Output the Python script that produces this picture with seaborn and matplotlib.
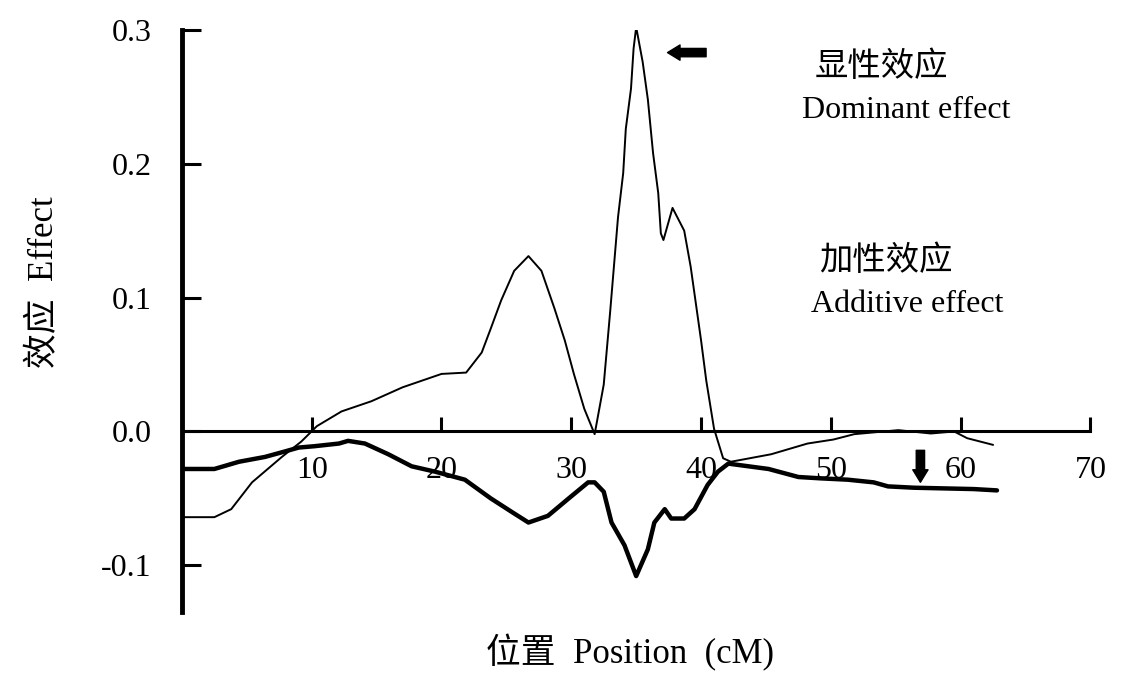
import pandas as pd
import seaborn as sns
import matplotlib.pyplot as plt

# 显性效应 (dominant effect), thin line
pos_dom = [0, 2.5, 3.8, 5.4, 7.7, 9.2, 10.4, 12.3, 14.6, 17, 20, 21.9, 23.1, 23.8,
           24.6, 25.6, 26.7, 27.7, 28.7, 29.5, 30.2, 31, 31.8, 32.5, 33.0, 33.6, 34,
           34.2, 34.6, 34.8, 35, 35.5, 35.9, 36.3, 36.7, 36.9, 37.1, 37.8, 38.7, 39.2,
           40, 40.4, 41, 41.7, 42.3, 45.4, 48.2, 50.2, 51.8, 55.2, 57.7, 59.5, 60.5, 62.5]
dom = [-0.064, -0.064, -0.058, -0.038, -0.019, -0.0075, 0.004, 0.015, 0.0226, 0.033,
       0.043, 0.044, 0.059, 0.077, 0.098, 0.12, 0.131, 0.12, 0.092, 0.068, 0.043, 0.017,
       -0.002, 0.035, 0.09, 0.16, 0.193, 0.226, 0.256, 0.286, 0.302, 0.276, 0.248, 0.208,
       0.178, 0.148, 0.143, 0.167, 0.15, 0.123, 0.068, 0.038, 0.002, -0.02, -0.0226,
       -0.017, -0.009, -0.006, -0.002, 0.001, -0.0015, 0.0, -0.005, -0.01]

# 加性效应 (additive effect), thick line
pos_add = [0, 2.5, 4.4, 6.4, 7.9, 9, 10.2, 12.1, 12.8, 14.1, 15.9, 17.7, 19.5, 21.8,
           23.8, 25.4, 26.7, 28.2, 29.8, 31.3, 31.8, 32.5, 33.1, 34.1, 35, 35.9, 36.4,
           37.2, 37.7, 38.7, 39.5, 40.5, 41.3, 42.1, 45.2, 47.5, 49.2, 51.3, 53.3, 54.4,
           56.4, 61, 62.8]
add = [-0.028, -0.028, -0.0226, -0.019, -0.015, -0.012, -0.011, -0.009, -0.007, -0.009,
       -0.017, -0.026, -0.03, -0.036, -0.05, -0.06, -0.068, -0.063, -0.05, -0.038, -0.038,
       -0.045, -0.068, -0.085, -0.108, -0.088, -0.068, -0.058, -0.065, -0.065, -0.058,
       -0.04, -0.03, -0.024, -0.028, -0.034, -0.035, -0.036, -0.038, -0.041, -0.042,
       -0.043, -0.044]

x_ticks = [10, 20, 30, 40, 50, 60, 70]
y_ticks = [-0.1, 0.0, 0.1, 0.2, 0.3]
y_labels = ['-0.1', '0.0', '0.1', '0.2', '0.3']

sns.set_style('white')
plt.rcParams['font.family'] = ['Liberation Serif', 'Noto Sans CJK SC', 'DejaVu Sans']
plt.rcParams['text.color'] = 'black'
plt.rcParams['axes.edgecolor'] = 'black'
plt.rcParams['xtick.color'] = 'black'
plt.rcParams['ytick.color'] = 'black'

df_dom = pd.DataFrame({'pos': pos_dom, 'effect': dom})
df_add = pd.DataFrame({'pos': pos_add, 'effect': add})

fig = plt.figure(figsize=(11.23, 6.78), dpi=100)
ax = fig.add_axes([0.162, 0.097, 0.809, 0.859])

sns.lineplot(data=df_dom, x='pos', y='effect', color='black', linewidth=1.4,
             estimator=None, sort=False, ax=ax)
sns.lineplot(data=df_add, x='pos', y='effect', color='black', linewidth=3.2,
             estimator=None, sort=False, ax=ax)

ax.set_xlim(0, 70)
ax.set_ylim(-0.135, 0.3)
ax.spines['top'].set_visible(False)
ax.spines['right'].set_visible(False)
ax.spines['left'].set_linewidth(3.5)
ax.spines['bottom'].set_position(('data', 0))
ax.spines['bottom'].set_linewidth(2.2)
ax.set_xticks(x_ticks)
ax.set_yticks(y_ticks)
ax.set_yticklabels(y_labels)
ax.tick_params(axis='x', bottom=True, direction='in', length=10, width=2.2,
               labelsize=23, pad=18)
ax.tick_params(axis='y', left=True, direction='in', length=14, width=2.2,
               labelsize=23, pad=22)
ax.set_xlabel('')
ax.set_ylabel('')

# arrows
ax.annotate('', xy=(37.2, 0.283), xytext=(40.6, 0.283),
            arrowprops=dict(arrowstyle='simple,head_length=0.9,head_width=1.1,tail_width=0.6',
                            color='black'))
ax.annotate('', xy=(56.9, -0.040), xytext=(56.9, -0.012),
            arrowprops=dict(arrowstyle='simple,head_length=0.9,head_width=1.1,tail_width=0.6',
                            color='black'))

ax.text(53.9, 0.272, '显性效应', fontsize=24, ha='center', va='center')
ax.text(55.8, 0.240, 'Dominant effect', fontsize=23, ha='center', va='center')
ax.text(54.2, 0.127, '加性效应', fontsize=24, ha='center', va='center')
ax.text(55.9, 0.095, 'Additive effect', fontsize=23, ha='center', va='center')

fig.text(630 / 1123, 1 - 653 / 678, '位置  Position  (cM)', fontsize=25,
         ha='center', va='center')
fig.text(45 / 1123, 1 - 282 / 678, '效应  Effect', fontsize=25,
         ha='center', va='center', rotation=90)

fig.savefig('out.png', dpi=100, facecolor='white')
